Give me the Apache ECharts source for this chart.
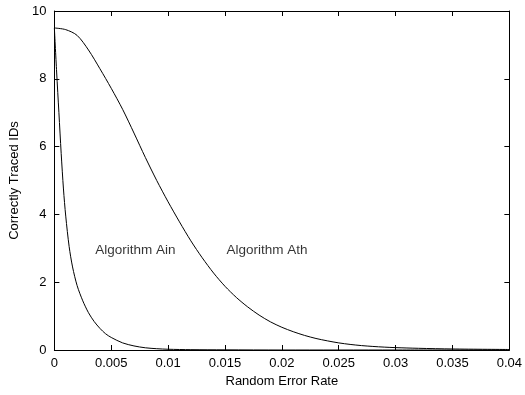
<!DOCTYPE html>
<html><head><meta charset="utf-8">
<script src="https://cdn.jsdelivr.net/npm/echarts@6/dist/echarts.min.js"></script>
<style>html,body{margin:0;padding:0;background:#fff}#c{width:525px;height:395px}</style>
</head><body><div id="c"></div>
<script>
const ainX = [0,0.0002,0.0004,0.0006,0.0008,0.001,0.0013,0.0016,0.002,0.0025,0.003,0.0035,0.004,0.0045,0.005,0.006,0.007,0.008,0.009,0.01,0.012,0.015,0.02,0.03,0.04];
const ainY = [9.5,8.2,7.0,5.8,4.75,3.95,3.05,2.45,1.9,1.45,1.1,0.84,0.64,0.48,0.37,0.21,0.12,0.065,0.038,0.022,0.01,0.005,0,0,0];
const athX = [0,0.001,0.002,0.003,0.004,0.005,0.006,0.007,0.008,0.009,0.01,0.011,0.012,0.013,0.014,0.015,0.016,0.017,0.018,0.019,0.02,0.021,0.022,0.023,0.024,0.025,0.026,0.027,0.028,0.029,0.03,0.032,0.035,0.04];
const athY = [9.5,9.45,9.28,8.85,8.3,7.72,7.1,6.4,5.68,5.0,4.37,3.78,3.22,2.72,2.27,1.88,1.55,1.27,1.03,0.83,0.67,0.54,0.43,0.34,0.27,0.21,0.165,0.13,0.105,0.085,0.07,0.05,0.03,0.015];
const xTickLabels = ['0','0.005','0.01','0.015','0.02','0.025','0.03','0.035','0.04'];
const yTickLabels = ['0','2','4','6','8','10'];
const annotations = [
  {text:'Algorithm Ain', x:0.00713, y:2.95},
  {text:'Algorithm Ath', x:0.0187, y:2.95}
];
const font = 'Liberation Sans, Arial, sans-serif';
const chart = echarts.init(document.getElementById('c'));
const axisCommon = {
  axisLine:{show:true,onZero:false,lineStyle:{color:'#000',width:1}},
  axisTick:{show:true,inside:true,length:5,lineStyle:{color:'#000'}},
  splitLine:{show:false}
};
chart.setOption({
  animation:false,
  grid:{left:52,right:12,top:11,bottom:45},
  xAxis:[
    Object.assign({type:'value',min:0,max:0.04,interval:0.005,position:'bottom',
      name:'Random Error Rate',nameLocation:'middle',nameGap:25,
      nameTextStyle:{color:'#000',fontSize:13,fontFamily:font},
      axisLabel:{color:'#000',fontSize:13,fontFamily:font,margin:7,
        formatter:(v)=>xTickLabels[Math.round(v/0.005)]}},axisCommon),
    Object.assign({type:'value',min:0,max:0.04,interval:0.005,position:'top',
      axisLabel:{show:false}},axisCommon)
  ],
  yAxis:[
    Object.assign({type:'value',min:0,max:10,interval:2,position:'left',
      name:'Correctly Traced IDs',nameLocation:'middle',nameGap:32,
      nameTextStyle:{color:'#000',fontSize:13,fontFamily:font},
      axisLabel:{color:'#000',fontSize:13,fontFamily:font,margin:8,
        formatter:(v)=>yTickLabels[Math.round(v/2)]}},axisCommon),
    Object.assign({type:'value',min:0,max:10,interval:2,position:'right',
      axisLabel:{show:false}},axisCommon)
  ],
  series:[
    {type:'line',data:ainX.map((x,i)=>[x,ainY[i]]),smooth:0.3,showSymbol:false,
      lineStyle:{color:'#000',width:1},xAxisIndex:0,yAxisIndex:0},
    {type:'line',data:athX.map((x,i)=>[x,athY[i]]),smooth:0.3,showSymbol:false,
      lineStyle:{color:'#000',width:1},xAxisIndex:0,yAxisIndex:0},
    {type:'scatter',symbolSize:0,data:annotations.map(a=>({value:[a.x,a.y],name:a.text})),
      label:{show:true,position:'inside',formatter:(p)=>p.name,color:'#000',fontSize:13.5,fontFamily:font},
      xAxisIndex:0,yAxisIndex:0,silent:true}
  ]
});
</script></body></html>
